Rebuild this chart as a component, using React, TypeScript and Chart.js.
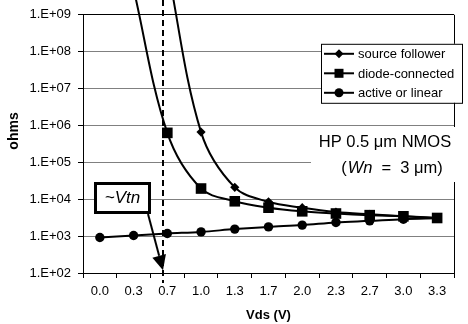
import React, { useEffect, useRef } from 'react';
import { Chart, registerables } from 'chart.js';

Chart.register(...registerables);

// ---- data ----
const xLabels = ['0.0', '0.3', '0.7', '1.0', '1.3', '1.7', '2.0', '2.3', '2.7', '3.0', '3.3'];
const vdsValues = [0, 0.33, 0.67, 1.0, 1.33, 1.67, 2.0, 2.33, 2.67, 3.0, 3.33];
const seriesNames = ['source follower', 'diode-connected', 'active or linear'];
const sourceFollower = [null, null, 2e10, 6.6e5, 2.1e4, 8.5e3, 5.9e3, 4.5e3, 3.9e3, 3.45e3, 3.1e3];
const diodeConnected = [null, 5e9, 6.3e5, 1.95e4, 8.8e3, 5.9e3, 4.7e3, 4.1e3, 3.7e3, 3.45e3, 3.1e3];
const activeLinear = [920, 1040, 1180, 1300, 1550, 1780, 1990, 2350, 2590, 2870, 3030];
const yTickValues = [1e2, 1e3, 1e4, 1e5, 1e6, 1e7, 1e8, 1e9];
const Y_MIN = 1e2;
const Y_MAX = 1e9;
const VTN = 0.63;
const FONT = "'Liberation Sans', Arial, sans-serif";

function vtnIndex(): number {
  for (let i = 0; i < vdsValues.length - 1; i++) {
    if (VTN >= vdsValues[i] && VTN <= vdsValues[i + 1]) {
      return i + (VTN - vdsValues[i]) / (vdsValues[i + 1] - vdsValues[i]);
    }
  }
  return 0;
}

function drawMarker(ctx: CanvasRenderingContext2D, style: string, x: number, y: number, r: number) {
  ctx.beginPath();
  if (style === 'rect') {
    const s = r;
    ctx.rect(x - s, y - s, 2 * s, 2 * s);
  } else if (style === 'rectRot') {
    ctx.moveTo(x, y - r);
    ctx.lineTo(x + r, y);
    ctx.lineTo(x, y + r);
    ctx.lineTo(x - r, y);
    ctx.closePath();
  } else {
    ctx.arc(x, y, r, 0, Math.PI * 2);
  }
  ctx.fill();
}

const overlayPlugin = {
  id: 'overlay',
  beforeDatasetsDraw(chart: any) {
    const { ctx, chartArea: a } = chart;
    ctx.save();
    ctx.strokeStyle = '#000';
    ctx.lineWidth = 1;
    ctx.beginPath();
    ctx.moveTo(Math.round(a.right) + 0.5, a.top);
    ctx.lineTo(Math.round(a.right) + 0.5, a.bottom + 5);
    ctx.stroke();
    ctx.restore();
  },
  afterDatasetsDraw(chart: any) {
    const { ctx, chartArea: a, scales } = chart;
    const xs = scales.x;
    const ys = scales.y;
    ctx.save();

    // Vtn dashed line
    const vx = Math.round(xs.getPixelForValue(vtnIndex()));
    ctx.strokeStyle = '#000';
    ctx.lineWidth = 2;
    ctx.setLineDash([6, 4]);
    ctx.beginPath();
    ctx.moveTo(vx, 0);
    ctx.lineTo(vx, a.bottom + 10);
    ctx.stroke();
    ctx.setLineDash([]);

    // callout box
    const cx = xs.getPixelForValue(0.67);
    const cy = ys.getPixelForValue(1.06e4);
    const bw = 57, bh = 32;
    const bx = Math.round(cx - bw / 2), by = Math.round(cy - bh / 2);
    // arrow
    const ax0 = bx + bw - 3, ay0 = by + bh;
    const ax1 = vx, ay1 = ys.getPixelForValue(118);
    const ang = Math.atan2(ay1 - ay0, ax1 - ax0);
    const hl = 15, hw = 7;
    const bxh = ax1 - hl * Math.cos(ang), byh = ay1 - hl * Math.sin(ang);
    ctx.lineWidth = 2;
    ctx.beginPath();
    ctx.moveTo(ax0, ay0);
    ctx.lineTo(bxh, byh);
    ctx.stroke();
    ctx.fillStyle = '#000';
    ctx.beginPath();
    ctx.moveTo(ax1, ay1);
    ctx.lineTo(bxh + hw * Math.sin(ang), byh - hw * Math.cos(ang));
    ctx.lineTo(bxh - hw * Math.sin(ang), byh + hw * Math.cos(ang));
    ctx.closePath();
    ctx.fill();

    ctx.fillStyle = '#fff';
    ctx.fillRect(bx, by, bw, bh);
    ctx.lineWidth = 3;
    ctx.strokeStyle = '#000';
    ctx.strokeRect(bx + 1.5, by + 1.5, bw - 3, bh - 3);
    ctx.fillStyle = '#000';
    ctx.font = `italic 17px ${FONT}`;
    ctx.textAlign = 'center';
    ctx.textBaseline = 'middle';
    ctx.fillText('~Vtn', bx + bw / 2, by + bh / 2);

    // legend
    const lx = Math.round(a.right) - 133, ly = a.top + 29, lw = 141, lh = 59;
    ctx.fillStyle = '#fff';
    ctx.fillRect(lx, ly, lw, lh);
    ctx.strokeStyle = '#000';
    ctx.lineWidth = 1;
    ctx.strokeRect(lx + 0.5, ly + 0.5, lw, lh);
    const styles = ['rectRot', 'rect', 'circle'];
    const radii = [4.5, 4.5, 4.5];
    ctx.font = `13px ${FONT}`;
    ctx.textAlign = 'left';
    ctx.textBaseline = 'middle';
    seriesNames.forEach((name, i) => {
      const yy = ly + 10 + i * 19.5;
      ctx.strokeStyle = '#000';
      ctx.lineWidth = 2;
      ctx.beginPath();
      ctx.moveTo(lx + 3, yy);
      ctx.lineTo(lx + 33, yy);
      ctx.stroke();
      ctx.fillStyle = '#000';
      drawMarker(ctx, styles[i], lx + 18, yy, radii[i]);
      ctx.fillText(name, lx + 37, yy + 1);
    });

    // HP text box
    const hx = Math.round(a.right) - 143;
    ctx.fillStyle = '#fff';
    ctx.fillRect(hx, 127, chart.width - hx, 55);
    ctx.fillStyle = '#000';
    ctx.font = `16.5px ${FONT}`;
    ctx.textAlign = 'center';
    ctx.textBaseline = 'middle';
    ctx.fillText('HP 0.5 \u03bcm NMOS', 385, 142);
    const p1 = '(', p2 = 'Wn', p3 = '  =  3 \u03bcm)';
    const w1 = ctx.measureText(p1).width;
    const w3 = ctx.measureText(p3).width;
    ctx.font = `italic 16.5px ${FONT}`;
    const w2 = ctx.measureText(p2).width;
    const sx = 391.5 - (w1 + w2 + w3) / 2;
    ctx.textAlign = 'left';
    ctx.font = `16.5px ${FONT}`;
    ctx.fillText(p1, sx, 168);
    ctx.font = `italic 16.5px ${FONT}`;
    ctx.fillText(p2, sx + w1 + 1, 168);
    ctx.font = `16.5px ${FONT}`;
    ctx.fillText(p3, sx + w1 + w2 + 1, 168);

    ctx.restore();
  },
  afterDraw(chart: any) {
    const { ctx, chartArea: a } = chart;
    ctx.save();
    ctx.fillStyle = '#000';
    ctx.textAlign = 'center';
    ctx.textBaseline = 'middle';
    ctx.font = `bold 13px ${FONT}`;
    ctx.fillText('Vds (V)', (a.left + a.right) / 2, 315);
    ctx.translate(14, 131);
    ctx.rotate(-Math.PI / 2);
    ctx.font = `bold 14px ${FONT}`;
    ctx.fillText('ohms', 0, 0);
    ctx.restore();
  },
};

function hideOffScale(r: number) {
  return (c: any) => {
    const v = c.raw;
    return v == null || v > Y_MAX || v < Y_MIN ? 0 : r;
  };
}

export default function App() {
  const ref = useRef<HTMLCanvasElement>(null);
  useEffect(() => {
    if (!ref.current) return;
    const common = {
      borderColor: '#000',
      backgroundColor: '#000',
      pointBackgroundColor: '#000',
      pointBorderColor: '#000',
      borderWidth: 2,
      pointBorderWidth: 0,
      tension: 0.35,
      clip: false as any,
      spanGaps: false,
    };
    const chart = new Chart(ref.current, {
      type: 'line',
      data: {
        labels: xLabels,
        datasets: [
          { ...common, label: seriesNames[0], data: sourceFollower, pointStyle: 'rectRot', pointRadius: hideOffScale(4.6) } as any,
          { ...common, label: seriesNames[1], data: diodeConnected, pointStyle: 'rect', pointRadius: hideOffScale(7.5) } as any,
          { ...common, label: seriesNames[2], data: activeLinear, pointStyle: 'circle', pointRadius: hideOffScale(4.7) } as any,
        ],
      },
      options: {
        responsive: false,
        animation: false,
        devicePixelRatio: 1,
        layout: { padding: { top: 14, right: 14, left: 0, bottom: 0 } },
        elements: { line: { capBezierPoints: false } },
        plugins: { legend: { display: false }, tooltip: { enabled: false }, title: { display: false } },
        scales: {
          x: {
            type: 'category',
            offset: true,
            grid: { offset: true, drawOnChartArea: false, drawTicks: true, tickLength: 5, tickColor: '#000' },
            border: { color: '#000', width: 1 },
            ticks: { color: '#000', font: { family: FONT, size: 13 }, padding: 6, maxRotation: 0, autoSkip: false },
            afterFit: (s: any) => { s.height = 51; },
          },
          y: {
            type: 'logarithmic',
            min: Y_MIN,
            max: Y_MAX,
            afterBuildTicks: (s: any) => { s.ticks = yTickValues.map((v) => ({ value: v })); },
            grid: {
              color: (c: any) => (c.tick && c.tick.value === Y_MAX ? '#000' : '#808080'),
              tickColor: '#000',
              tickLength: 5,
              lineWidth: 1,
            },
            border: { color: '#000', width: 1 },
            ticks: {
              color: '#000',
              font: { family: FONT, size: 13 },
              padding: 7,
              callback: (v: any) => {
                const e = Math.round(Math.log10(Number(v)));
                return '1.E+' + (e < 10 ? '0' + e : String(e));
              },
            },
            afterFit: (s: any) => { s.width = 83; },
          },
        },
      },
      plugins: [overlayPlugin],
    });
    return () => chart.destroy();
  }, []);
  return (
    <div style={{ position: 'absolute', left: 0, top: 0, width: 468, height: 324, background: '#fff' }}>
      <canvas ref={ref} width={468} height={324} style={{ display: 'block' }} />
    </div>
  );
}
